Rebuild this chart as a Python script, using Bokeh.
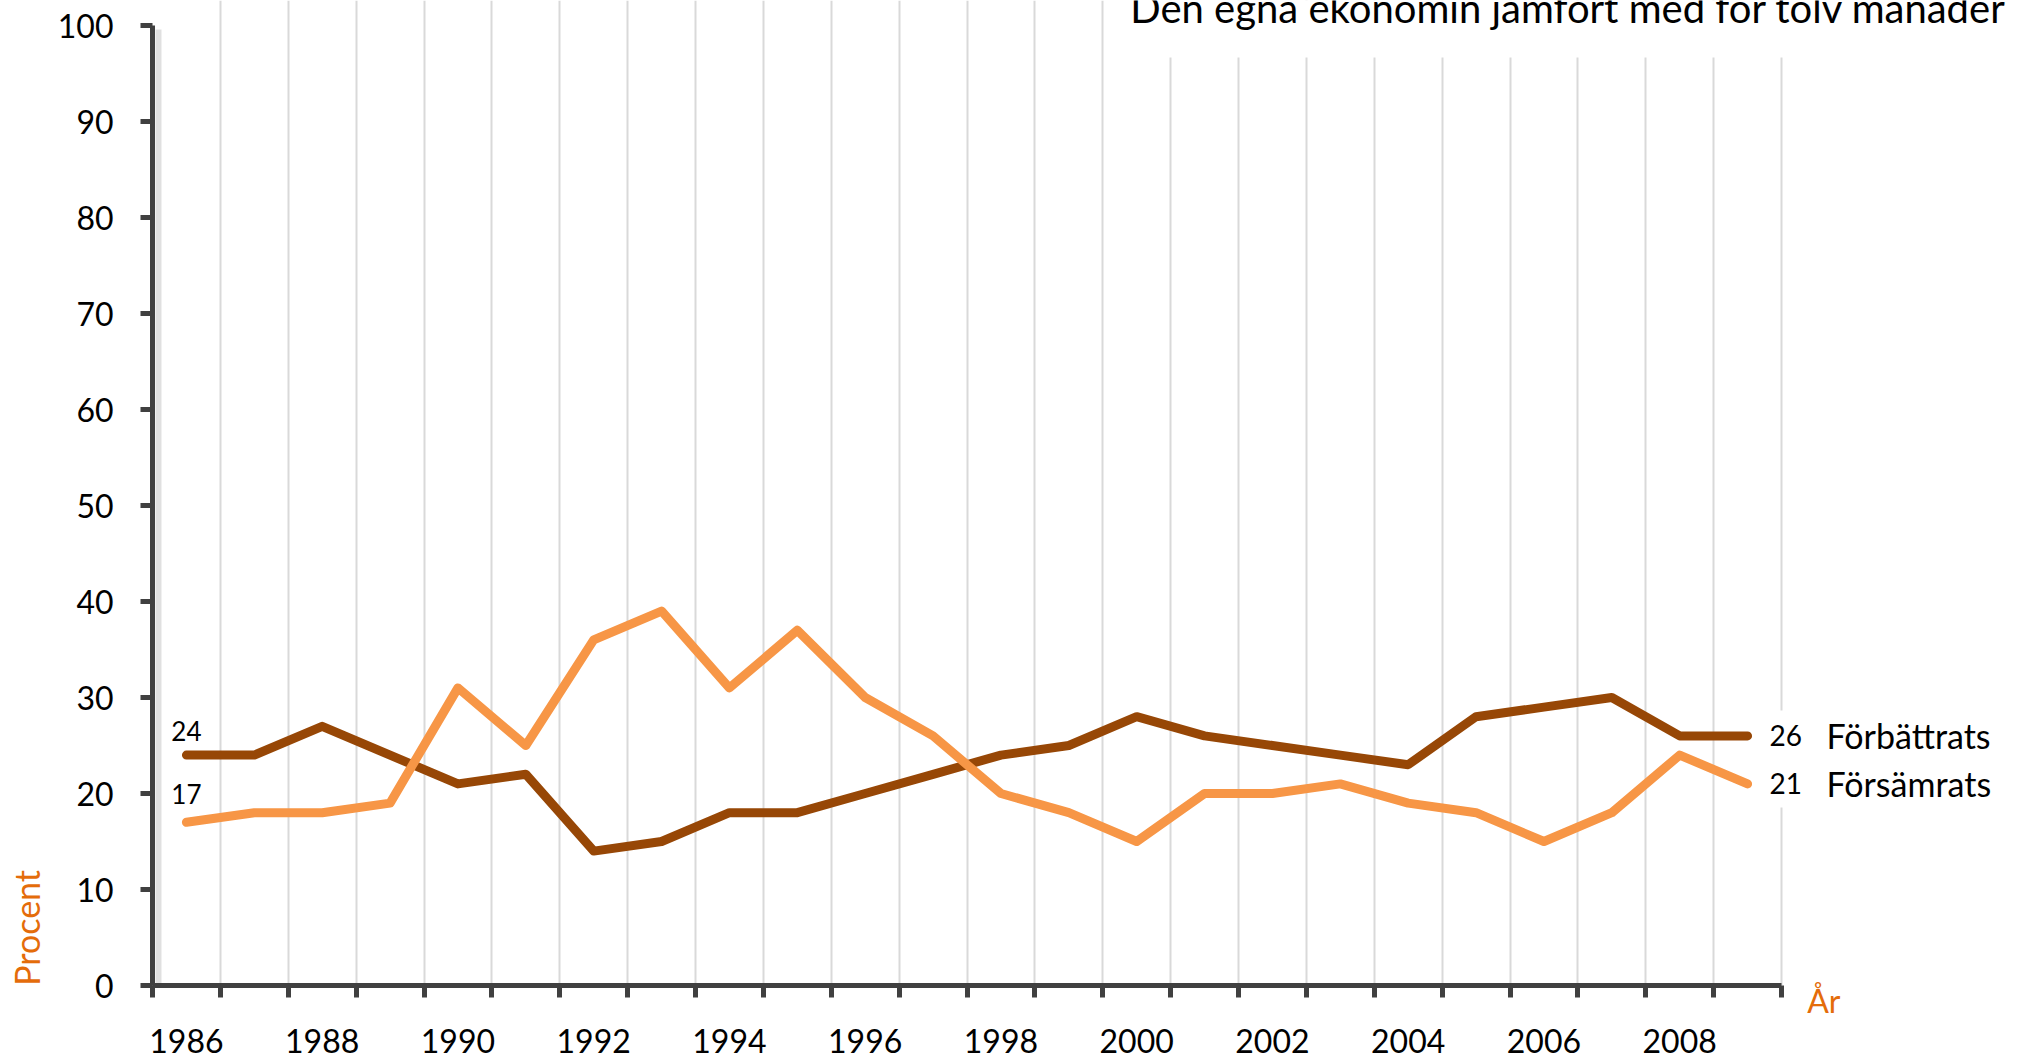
from bokeh.plotting import figure
from bokeh.models import (FixedTicker, Label, BoxAnnotation, Range1d, ColumnDataSource,
                          LinearAxis, Title)
from bokeh.core.properties import value
from bokeh.embed import file_html
from bokeh.resources import INLINE

years = list(range(1986, 2010))
forbattrats = [24, 24, 27, 24, 21, 22, 14, 15, 18, 18, 20, 22, 24, 25, 28, 26, 25, 24, 23, 28, 29, 30, 26, 26]
forsamrats = [17, 18, 18, 19, 31, 25, 36, 39, 31, 37, 30, 26, 20, 18, 15, 20, 20, 21, 19, 18, 15, 18, 24, 21]
tick_years = list(range(1986, 2009, 2))
y_ticks = list(range(0, 101, 10))
title_text = "Den egna ekonomin jämfört med för tolv månader"
series_names = ["Förbättrats", "Försämrats"]
y_label = "Procent"
x_label = "År"

DARK = "#974706"
ORANGE = "#F79646"
AXIS = "#404040"
LABEL_ORANGE = "#E46C0A"
FONT = "Lato"

W, H = 2017, 1059
# where the axes meet (canvas pixels) and where 100 / the last category end lie
AX_L, AX_B, AX_T, AX_R = 152, 985, 25, 1781

x0 = years[0] - 0.5
xe = years[-1] + 0.5
px_x = (AX_R - AX_L) / (xe - x0)
px_y = (AX_B - AX_T) / 100.0
x_end = x0 + (W - AX_L) / px_x          # frame runs to the canvas' right edge
y_end = 100 + AX_T / px_y               # frame runs to the canvas' top edge

def dx(px):
    return x0 + (px - AX_L) / px_x

def dy(py):
    return (AX_B - py) / px_y

p = figure(width=W, height=H, output_backend="svg", toolbar_location=None,
           x_range=Range1d(x0, x_end), y_range=Range1d(0, y_end),
           min_border_left=AX_L, min_border_right=0,
           min_border_top=0, min_border_bottom=H - AX_B)
p.outline_line_color = None
p.background_fill_color = "white"
p.border_fill_color = "white"

boundaries = [y + 0.5 for y in range(years[0] - 1, years[-1] + 1)]

# grid
p.ygrid.grid_line_color = None
p.xgrid.ticker = FixedTicker(ticks=boundaries[1:])
p.xgrid.grid_line_color = "#D9D9D9"
p.xgrid.grid_line_width = 2

# x axis
xa = p.xaxis[0]
xa.bounds = (x0, xe)
xa.ticker = FixedTicker(ticks=tick_years, minor_ticks=boundaries)
xa.axis_line_color = AXIS
xa.axis_line_width = 5
xa.major_tick_out = 0
xa.major_tick_in = 0
xa.major_tick_line_color = None
xa.minor_tick_out = 12
xa.minor_tick_in = 0
xa.minor_tick_line_color = AXIS
xa.minor_tick_line_width = 5
xa.major_label_text_font = FONT
xa.major_label_text_font_size = "32px"
xa.major_label_text_color = "black"
xa.major_label_standoff = 31

# y axis
ya = p.yaxis[0]
ya.bounds = (0, 100)
ya.ticker = FixedTicker(ticks=y_ticks)
ya.axis_line_color = AXIS
ya.axis_line_width = 5
ya.major_tick_out = 12
ya.major_tick_in = 0
ya.major_tick_line_color = AXIS
ya.major_tick_line_width = 5
ya.minor_tick_line_color = None
ya.major_label_text_font = FONT
ya.major_label_text_font_size = "32px"
ya.major_label_text_color = "black"
ya.major_label_standoff = 27

# "Procent" as a vertical label on an outer left axis
procent_at = 6
pa = LinearAxis(ticker=FixedTicker(ticks=[procent_at]),
                major_label_overrides={procent_at: y_label},
                major_label_orientation="vertical",
                axis_line_color=None, major_tick_line_color=None,
                minor_tick_line_color=None, major_tick_out=0, major_tick_in=0,
                major_label_standoff=7,
                major_label_text_font=FONT, major_label_text_font_size="34px",
                major_label_text_color=LABEL_ORANGE)
p.add_layout(pa, "left")

# "År" below, to the right of the axis end
p.add_layout(Title(text=x_label, align="right", vertical_align="top",
                   offset=W - 1840, standoff=-149,
                   text_font=FONT, text_font_size="32px", text_font_style="normal",
                   text_color=LABEL_ORANGE), "below")

# soft shadows of the two axis lines
p.add_layout(BoxAnnotation(left=dx(AX_L + 3), right=dx(AX_L + 9), bottom=dy(AX_B + 4),
                           top=dy(AX_T + 4), fill_color="#A6A6A6", fill_alpha=0.35,
                           line_color=None, level="underlay"))
p.add_layout(BoxAnnotation(left=dx(AX_L + 3), right=dx(AX_R + 4), bottom=dy(AX_B + 9),
                           top=dy(AX_B + 3), fill_color="#A6A6A6", fill_alpha=0.35,
                           line_color=None, level="underlay"))

# white boxes behind title and end labels
p.add_layout(BoxAnnotation(left=dx(1115), bottom=dy(57), fill_color="white", fill_alpha=1,
                           line_color=None, level="underlay"))
p.add_layout(BoxAnnotation(left=dx(1762), bottom=dy(807), top=dy(710), fill_color="white",
                           fill_alpha=1, line_color=None, level="underlay"))

src = ColumnDataSource(dict(x=years, f=forbattrats, s=forsamrats))
p.line("x", "f", source=src, line_color=DARK, line_width=9, line_join="round", line_cap="round")
p.line("x", "s", source=src, line_color=ORANGE, line_width=9, line_join="round", line_cap="round")

# start values
p.text(x=[years[0]], y=[forbattrats[0]], text=[str(forbattrats[0])], text_align="center",
       text_baseline="middle", y_offset=-24, text_font=value(FONT),
       text_font_size="26px", text_color="black")
p.text(x=[years[0]], y=[forsamrats[0]], text=[str(forsamrats[0])], text_align="center",
       text_baseline="middle", y_offset=-28, text_font=value(FONT),
       text_font_size="26px", text_color="black")

# end values and names
ends = [forbattrats[-1], forsamrats[-1]]
p.text(x=[years[-1]] * 2, y=ends, text=[str(v) for v in ends], x_offset=22,
       text_align="left", text_baseline="middle", text_font=value(FONT),
       text_font_size="28px", text_color="black")
p.text(x=[years[-1]] * 2, y=ends, text=series_names, x_offset=79,
       text_align="left", text_baseline="middle", text_font=value(FONT),
       text_font_size="34px", text_color="black")

# title (partly above the page, as in the original)
p.add_layout(Label(x=dx(2006), y=dy(7), text=title_text, text_align="right",
                   text_baseline="middle", text_font=FONT, text_font_size="40px",
                   text_color="black"))

open("out.html", "w").write(file_html(p, INLINE))
